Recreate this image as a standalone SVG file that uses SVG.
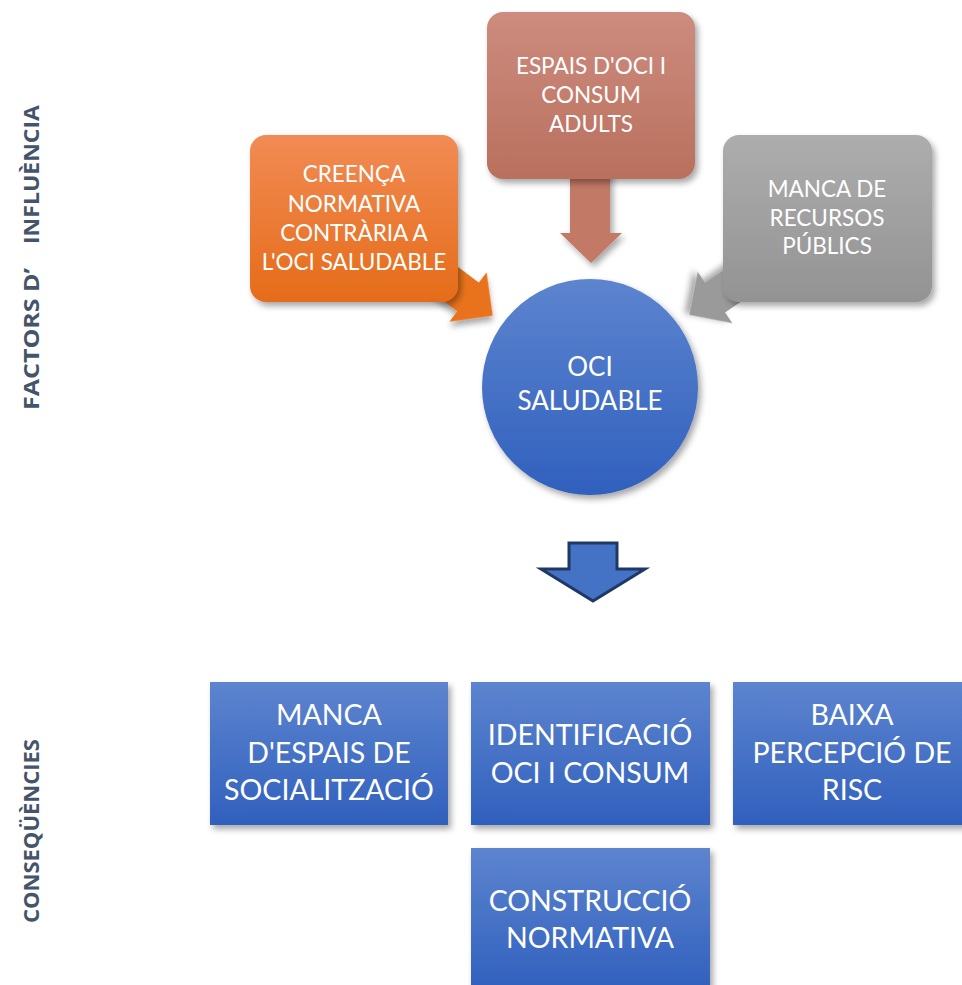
<svg xmlns="http://www.w3.org/2000/svg" width="962" height="985" viewBox="0 0 962 985">
  <defs>
    <linearGradient id="gOrange" x1="0" y1="0" x2="0" y2="1">
      <stop offset="0" stop-color="#f28b54"/>
      <stop offset="1" stop-color="#e56c19"/>
    </linearGradient>
    <linearGradient id="gBrown" x1="0" y1="0" x2="0" y2="1">
      <stop offset="0" stop-color="#cd8c7f"/>
      <stop offset="1" stop-color="#b9705d"/>
    </linearGradient>
    <linearGradient id="gGrey" x1="0" y1="0" x2="0" y2="1">
      <stop offset="0" stop-color="#adadad"/>
      <stop offset="1" stop-color="#939393"/>
    </linearGradient>
    <linearGradient id="gBlue" x1="0" y1="0" x2="0" y2="1">
      <stop offset="0" stop-color="#5d84cf"/>
      <stop offset="1" stop-color="#3060bd"/>
    </linearGradient>
    <filter id="shadow" x="-20%" y="-20%" width="140%" height="140%">
      <feDropShadow dx="3" dy="4" stdDeviation="3" flood-color="#000" flood-opacity="0.35"/>
    </filter>
    <!-- block arrow pointing along +x, base at origin -->
    <polygon id="callArrow" points="-90,-18 0,-18 0,-31 31,0 0,31 0,18 -90,18"/>
  </defs>
  <style>
    .lbl { font-family: Lato, "Liberation Sans", sans-serif; fill: #ffffff; text-anchor: middle; }
    .s22 { font-size: 22.5px; }
    .s26 { font-size: 26px; }
    .s28 { font-size: 28.5px; }
    .side { font-family: "Open Sans", "Liberation Sans", sans-serif; font-weight: bold; font-size: 22px; fill: #44546a; }
  </style>

  <rect width="962" height="985" fill="#ffffff"/>

  <!-- side captions -->
  <g id="caption-factors">
    <text class="side" transform="translate(39,410) rotate(-90)" textLength="142" lengthAdjust="spacingAndGlyphs">FACTORS D’</text>
    <text class="side" transform="translate(39,244) rotate(-90)" textLength="139" lengthAdjust="spacingAndGlyphs">INFLUÈNCIA</text>
  </g>
  <g id="caption-consequencies">
    <text class="side" transform="translate(39,923) rotate(-90)" textLength="184" lengthAdjust="spacingAndGlyphs">CONSEQÜÈNCIES</text>
  </g>

  <!-- influence arrows -->
  <g id="connectors">
    <use href="#callArrow" transform="translate(468,297) rotate(37)" fill="#e9731f" filter="url(#shadow)"/>
    <use href="#callArrow" transform="translate(715,297.5) rotate(146)" fill="#9a9a9a" filter="url(#shadow)"/>
    <polygon points="570,170 610,170 610,233 622,233 591,263 560,233 570,233" fill="#c27966" filter="url(#shadow)"/>
    <polygon points="569,543 617,543 617,569 645,569 593,601 541,569 569,569" fill="#4472c4" stroke="#1f3864" stroke-width="3" stroke-linejoin="miter"/>
  </g>

  <!-- influence factors -->
  <g id="factor-creenca">
    <rect x="250" y="135" width="208" height="167" rx="16" fill="url(#gOrange)" filter="url(#shadow)"/>
    <text class="lbl s22" x="354" y="182">CREENÇA</text>
    <text class="lbl s22" x="354" y="212">NORMATIVA</text>
    <text class="lbl s22" x="354" y="241">CONTRÀRIA A</text>
    <text class="lbl s22" x="354" y="270">L'OCI SALUDABLE</text>
  </g>
  <g id="factor-espais">
    <rect x="487" y="12" width="208" height="167" rx="16" fill="url(#gBrown)" filter="url(#shadow)"/>
    <text class="lbl s22" x="591" y="74">ESPAIS D'OCI I</text>
    <text class="lbl s22" x="591" y="103">CONSUM</text>
    <text class="lbl s22" x="591" y="132">ADULTS</text>
  </g>
  <g id="factor-recursos">
    <rect x="723" y="135" width="209" height="167" rx="16" fill="url(#gGrey)" filter="url(#shadow)"/>
    <text class="lbl s22" x="827" y="197">MANCA DE</text>
    <text class="lbl s22" x="827" y="226">RECURSOS</text>
    <text class="lbl s22" x="827" y="254">PÚBLICS</text>
  </g>

  <!-- central node -->
  <g id="oci-saludable">
    <circle cx="590" cy="387" r="108" fill="url(#gBlue)" filter="url(#shadow)"/>
    <text class="lbl s26" x="590" y="376">OCI</text>
    <text class="lbl s26" x="590" y="410">SALUDABLE</text>
  </g>

  <!-- consequences -->
  <g id="conseq-socialitzacio">
    <rect x="210" y="682" width="238" height="143" fill="url(#gBlue)" filter="url(#shadow)"/>
    <text class="lbl s28" x="329" y="725">MANCA</text>
    <text class="lbl s28" x="329" y="763">D'ESPAIS DE</text>
    <text class="lbl s28" x="329" y="800">SOCIALITZACIÓ</text>
  </g>
  <g id="conseq-identificacio">
    <rect x="471" y="682" width="239" height="143" fill="url(#gBlue)" filter="url(#shadow)"/>
    <text class="lbl s28" x="590" y="745">IDENTIFICACIÓ</text>
    <text class="lbl s28" x="590" y="783">OCI I CONSUM</text>
  </g>
  <g id="conseq-risc">
    <rect x="733" y="682" width="238" height="143" fill="url(#gBlue)" filter="url(#shadow)"/>
    <text class="lbl s28" x="852" y="725">BAIXA</text>
    <text class="lbl s28" x="852" y="763">PERCEPCIÓ DE</text>
    <text class="lbl s28" x="852" y="800">RISC</text>
  </g>
  <g id="conseq-construccio">
    <rect x="471" y="848" width="239" height="143" fill="url(#gBlue)" filter="url(#shadow)"/>
    <text class="lbl s28" x="590" y="911">CONSTRUCCIÓ</text>
    <text class="lbl s28" x="590" y="948">NORMATIVA</text>
  </g>
</svg>
